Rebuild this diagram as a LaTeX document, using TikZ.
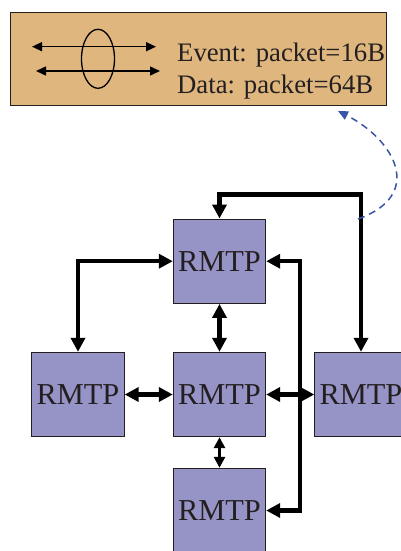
\documentclass[tikz,border=0pt]{standalone}
\usepackage{fontspec}
\setmainfont{Liberation Serif}
\usetikzlibrary{arrows.meta,shapes.geometric}
\definecolor{legendfill}{RGB}{222,182,126}
\definecolor{boxfill}{RGB}{150,147,198}
\definecolor{txt}{RGB}{35,31,32}
\definecolor{dashblue}{RGB}{58,85,165}
\tikzset{
  rmtp/.style={draw=txt, line width=1pt, fill=boxfill, minimum width=92.4pt, minimum height=84.4pt, inner sep=0pt, text=txt, font=\fontsize{30.4}{32}\selectfont},
  link/.style={line width=4.5pt, {Triangle[length=14pt,width=14pt]}-{Triangle[length=14pt,width=14pt]}},
  smalllink/.style={line width=3.2pt, {Triangle[length=11pt,width=11pt]}-{Triangle[length=11pt,width=11pt]}},
  legarrow/.style={line width=1.4pt, {Triangle[length=10pt,width=9pt]}-{Triangle[length=10pt,width=9pt]}},
  legtext/.style={anchor=base west, inner sep=0pt, text=txt, font=\fontsize{26.7}{30}\selectfont},
}
\begin{document}
\begin{tikzpicture}[x=1pt,y=-1pt]
\useasboundingbox (0,0) rectangle (401,551);
% legend
\node[draw=txt, line width=1pt, fill=legendfill, minimum width=376pt, minimum height=93pt, inner sep=0pt] (legend) at (198,58.8) {};
\coordinate (la1) at (32,46.7);
\coordinate (lb1) at (156,46.7);
\coordinate (la2) at (36,71);
\coordinate (lb2) at (160,71);
\draw[legarrow] (la1) -- (lb1);
\draw[legarrow] (la2) -- (lb2);
\node[draw=black, line width=1.3pt, ellipse, minimum width=33pt, minimum height=59pt, inner sep=0pt] (ell) at (98,58.8) {};
\node[legtext] (ev) at (177,61) {Event: packet=16B};
\node[legtext] (da) at (177,93.3) {Data: packet=64B};
% boxes
\node[rmtp] (top) at (219.5,261.2) {RMTP};
\node[rmtp] (left) at (78,394.5) {RMTP};
\node[rmtp] (center) at (219.5,394.5) {RMTP};
\node[rmtp] (right) at (361,394.5) {RMTP};
\node[rmtp] (bottom) at (219.5,510.5) {RMTP};
% connectors
\coordinate (topline) at (0,194.3);
\draw[link] (top.north) -- (top.north |- topline) -| (right.north);
\draw[link] (top.west) -| (left.north);
\draw[link] (top.south) -- (center.north);
\draw[link] (left.east) -- (center.west);
\draw[link] (center.east) -- (right.west);
\coordinate (busx) at (300,0);
\draw[link] (top.east) -| (busx |- bottom.east) -- (bottom.east);
\draw[smalllink] (center.south) -- (bottom.north);
% dashed link
\coordinate (dstart) at (358,219);
\coordinate (dend) at (338,111);
\draw[dashblue, line width=1.5pt, dash pattern=on 7pt off 5pt, -{Triangle[length=10pt,width=9pt]}] (dstart) .. controls (425,195) and (395,140) .. (dend);
\end{tikzpicture}
\end{document}
